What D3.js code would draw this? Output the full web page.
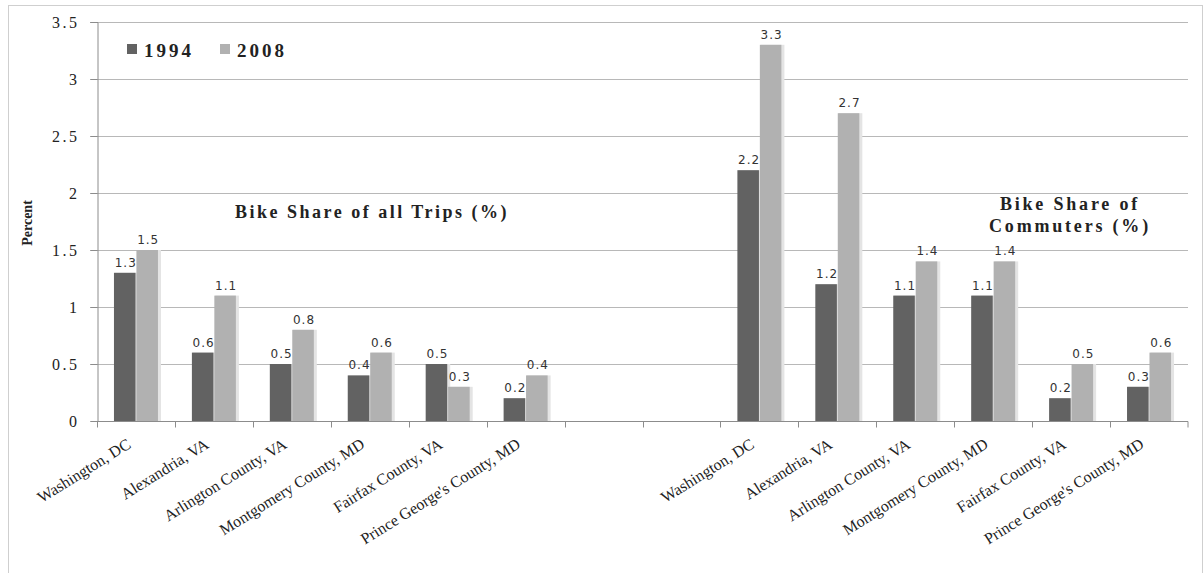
<!DOCTYPE html>
<html>
<head>
<meta charset="utf-8">
<script src="https://cdn.jsdelivr.net/npm/d3@7"></script>
<style>
  body { margin: 0; background: #fff; }
</style>
</head>
<body>
<svg id="chart" width="1204" height="573"></svg>
<script>
// categories (14 slots, two empty ones between the two panels)
var places = ["Washington, DC", "Alexandria, VA", "Arlington County, VA",
  "Montgomery County, MD", "Fairfax County, VA", "Prince George's County, MD"]
var slots = places.map(function (p, i) { return "a" + i })
  .concat(["gap1", "gap2"])
  .concat(places.map(function (p, i) { return "b" + i }))

var trips1994 = [1.3, 0.6, 0.5, 0.4, 0.5, 0.2]
var trips2008 = [1.5, 1.1, 0.8, 0.6, 0.3, 0.4]
var commute1994 = [2.2, 1.2, 1.1, 1.1, 0.2, 0.3]
var commute2008 = [3.3, 2.7, 1.4, 1.4, 0.5, 0.6]
var yTicks = [0, 0.5, 1, 1.5, 2, 2.5, 3, 3.5]
var years = ["1994", "2008"]

var dark = "#626262"
var light = "#b1b1b1"
var serif = "'Liberation Serif', 'Times New Roman', serif"
var sans = "'DejaVu Sans', Verdana, sans-serif"

var svg = d3.select("#chart")

// outer frame
svg.append("rect")
  .attr("x", 8.5).attr("y", 5.5)
  .attr("width", 1194).attr("height", 580)
  .attr("fill", "none").attr("stroke", "#cfcfcf")

var x = d3.scaleBand().domain(slots).range([97, 1188])
var y = d3.scaleLinear().domain([0, 3.5]).range([421, 22])
var inner = d3.scaleBand().domain(years).range([0, 44]).paddingInner(0.04)

// gridlines
svg.append("g").selectAll("line")
  .data(yTicks.slice(1))
  .enter().append("line")
    .attr("x1", 90).attr("x2", 1188)
    .attr("y1", function (d) { return Math.round(y(d)) + 0.5 })
    .attr("y2", function (d) { return Math.round(y(d)) + 0.5 })
    .attr("stroke", "#b8b8b8")

// y axis
var yAxis = svg.append("g")
  .attr("transform", "translate(97.5,0)")
  .call(d3.axisLeft(y).tickValues(yTicks).tickSize(7).tickPadding(11)
    .tickFormat(function (d) { return d }))
yAxis.select(".domain").attr("stroke", "#8c8c8c")
yAxis.selectAll(".tick line").attr("stroke", "#8c8c8c")
yAxis.selectAll("text")
  .style("font-family", serif)
  .style("font-size", "16px").attr("fill", "#222")
  .style("letter-spacing", "2.5px")

// x axis (ticks at band edges)
var xg = svg.append("g").attr("transform", "translate(0,421.5)")
xg.append("line").attr("x1", 97).attr("x2", 1188).attr("stroke", "#8c8c8c")
xg.selectAll(".tk")
  .data(slots.concat(["end"]))
  .enter().append("line")
    .attr("x1", function (d) { return d == "end" ? 1188 : Math.round(x(d)) + 0.5 })
    .attr("x2", function (d) { return d == "end" ? 1188 : Math.round(x(d)) + 0.5 })
    .attr("y1", 0).attr("y2", 6)
    .attr("stroke", "#8c8c8c")

// bars
var rows = []
places.forEach(function (p, i) {
  rows.push({ slot: "a" + i, place: p, year: "1994", v: trips1994[i] })
  rows.push({ slot: "a" + i, place: p, year: "2008", v: trips2008[i] })
  rows.push({ slot: "b" + i, place: p, year: "1994", v: commute1994[i] })
  rows.push({ slot: "b" + i, place: p, year: "2008", v: commute2008[i] })
})

function barX(d) {
  return x(d.slot) + (x.bandwidth() - 44) / 2 + inner(d.year)
}

// soft shadow behind bars
svg.append("g").selectAll("rect")
  .data(rows)
  .enter().append("rect")
    .attr("x", function (d) { return barX(d) + 1 })
    .attr("y", function (d) { return y(d.v) })
    .attr("width", inner.bandwidth() + 2)
    .attr("height", function (d) { return 421 - y(d.v) })
    .attr("fill", "#e4e4e4")

svg.append("g").selectAll("rect")
  .data(rows)
  .enter().append("rect")
    .attr("x", barX)
    .attr("y", function (d) { return y(d.v) })
    .attr("width", inner.bandwidth())
    .attr("height", function (d) { return 421 - y(d.v) })
    .attr("fill", function (d) { return d.year == "1994" ? dark : light })

// value labels
svg.append("g").selectAll("text")
  .data(rows)
  .enter().append("text")
    .attr("x", function (d) { return barX(d) + inner.bandwidth() / 2 + 1 })
    .attr("y", function (d) { return y(d.v) - 6 })
    .attr("text-anchor", "middle")
    .style("font-family", sans)
    .style("font-size", "12px")
    .style("letter-spacing", "1px")
    .attr("fill", "#333")
    .text(function (d) { return d.v })

// category labels
svg.append("g").selectAll("text")
  .data(slots.filter(function (s) { return s.indexOf("gap") < 0 }))
  .enter().append("text")
    .attr("transform", function (d) {
      return "translate(" + (x(d) + x.bandwidth() / 2 - 4) + ",447) rotate(-32)"
    })
    .attr("text-anchor", "end")
    .style("font-family", serif)
    .style("font-size", "16px")
    .attr("fill", "#222")
    .text(function (d) { return places[+d.slice(1)] })

// y axis title
svg.append("text")
  .attr("transform", "translate(32,223) rotate(-90)")
  .attr("text-anchor", "middle")
  .style("font-family", serif)
  .style("font-size", "14px").style("font-weight", "bold")
  .attr("fill", "#222")
  .text("Percent")

// legend
var legend = svg.append("g")
years.forEach(function (yr, i) {
  var lx = 127 + i * 93
  legend.append("rect")
    .attr("x", lx).attr("y", 44).attr("width", 10).attr("height", 10)
    .attr("fill", yr == "1994" ? dark : light)
  legend.append("text")
    .attr("x", lx + 17).attr("y", 57)
    .style("font-family", serif)
    .style("font-size", "19px").style("font-weight", "bold")
    .style("letter-spacing", "3px")
    .attr("fill", "#222")
    .text(yr)
})

// panel titles
svg.append("text")
  .attr("x", 372).attr("y", 218)
  .attr("text-anchor", "middle")
  .style("font-family", serif)
  .style("font-size", "18px").style("font-weight", "bold")
  .style("letter-spacing", "2.5px")
  .attr("fill", "#222")
  .text("Bike Share of all Trips (%)")

var ct = svg.append("text")
  .attr("text-anchor", "middle")
  .style("font-family", serif)
  .style("font-size", "18px").style("font-weight", "bold")
  .style("letter-spacing", "2.8px")
  .attr("fill", "#222")
ct.append("tspan").attr("x", 1070).attr("y", 210).text("Bike Share of")
ct.append("tspan").attr("x", 1070).attr("y", 232).text("Commuters (%)")
</script>
</body>
</html>
